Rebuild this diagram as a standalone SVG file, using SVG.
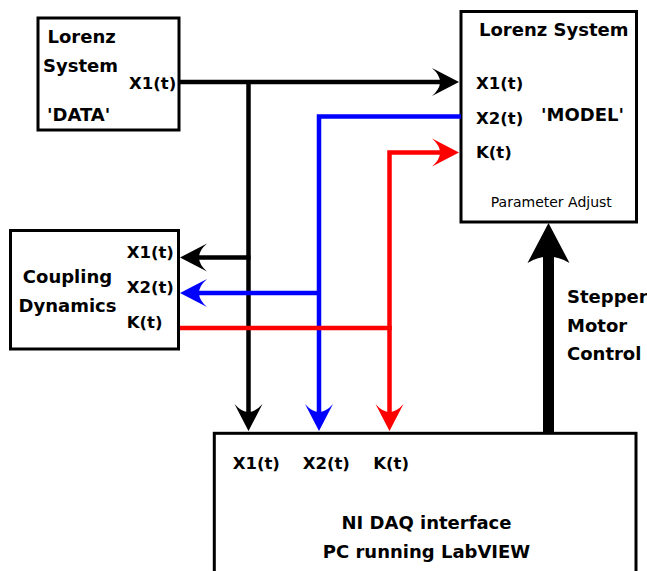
<svg xmlns="http://www.w3.org/2000/svg" width="647" height="571" viewBox="0 0 647 571">
<style>
.box{fill:#fff;stroke:#000;stroke-width:3}
.t{font-family:"DejaVu Sans","Bitstream Vera Sans",sans-serif;font-weight:bold;font-size:18px;fill:#000}
.p{font-family:"DejaVu Sans","Bitstream Vera Sans",sans-serif;font-weight:bold;font-size:16.5px;fill:#000}
.s{font-family:"DejaVu Sans","Bitstream Vera Sans",sans-serif;font-size:14px;fill:#000}
.c{fill:none;stroke-width:4.5;stroke-linejoin:miter}
</style>
<defs>
<marker id="aK" markerUnits="userSpaceOnUse" viewBox="-30 -16 32 32" markerWidth="32" markerHeight="32" refX="-18" refY="0" orient="auto-start-reverse" overflow="visible"><path d="M0,0 L-27,-14 Q-11,0 -27,14 Z" fill="#000"/></marker>
<marker id="aB" markerUnits="userSpaceOnUse" viewBox="-30 -16 32 32" markerWidth="32" markerHeight="32" refX="-18" refY="0" orient="auto-start-reverse" overflow="visible"><path d="M0,0 L-27,-14 Q-11,0 -27,14 Z" fill="#0000ff"/></marker>
<marker id="aR" markerUnits="userSpaceOnUse" viewBox="-30 -16 32 32" markerWidth="32" markerHeight="32" refX="-18" refY="0" orient="auto-start-reverse" overflow="visible"><path d="M0,0 L-27,-14 Q-11,0 -27,14 Z" fill="#ff0000"/></marker>
<marker id="aBig" markerUnits="userSpaceOnUse" viewBox="-44 -24 46 48" markerWidth="46" markerHeight="48" refX="-31" refY="0" orient="auto" overflow="visible"><path d="M0,0 L-40,-21 Q-27,0 -40,21 Z" fill="#000"/></marker>
</defs>

<g id="node-lorenz-data">
<rect class="box" x="38" y="18" width="141" height="112"/>
<text class="t" x="47.5" y="43.3">Lorenz</text>
<text class="t" x="43" y="72">System</text>
<text class="p" x="129" y="89">X1(t)</text>
<text class="t" x="47" y="121">'DATA'</text>
</g>

<g id="node-lorenz-model">
<rect class="box" x="461" y="11.5" width="175.5" height="210.5"/>
<text class="t" x="479" y="36">Lorenz System</text>
<text class="p" x="476" y="89">X1(t)</text>
<text class="p" x="476" y="123.5">X2(t)</text>
<text class="p" x="476" y="158">K(t)</text>
<text class="t" x="541" y="120.7">'MODEL'</text>
<text class="s" x="551.3" y="207.3" text-anchor="middle">Parameter Adjust</text>
</g>

<g id="node-coupling">
<rect class="box" x="10.5" y="230.5" width="168" height="118.5"/>
<text class="t" x="67.5" y="283" text-anchor="middle">Coupling</text>
<text class="t" x="67.5" y="311.5" text-anchor="middle">Dynamics</text>
<text class="p" x="126.7" y="258.3">X1(t)</text>
<text class="p" x="126.7" y="293">X2(t)</text>
<text class="p" x="126.7" y="328">K(t)</text>
</g>

<g id="node-daq">
<rect class="box" x="214.3" y="433.3" width="421.7" height="200"/>
<text class="p" x="232.7" y="469.3">X1(t)</text>
<text class="p" x="302.7" y="469.3">X2(t)</text>
<text class="p" x="373.3" y="469.3">K(t)</text>
<text class="t" x="426.5" y="529.3" text-anchor="middle">NI DAQ interface</text>
<text class="t" x="426.5" y="558.3" text-anchor="middle">PC running LabVIEW</text>
</g>

<g id="connectors">
<path class="c" stroke="#000" d="M180,82 H441" marker-end="url(#aK)"/>
<path class="c" stroke="#000" d="M248.5,80 V413" marker-end="url(#aK)"/>
<path class="c" stroke="#000" d="M250.5,257.5 H198" marker-end="url(#aK)"/>
<path class="c" stroke="#0000ff" d="M461,116.5 H319 V413" marker-end="url(#aB)"/>
<path class="c" stroke="#0000ff" d="M321,293 H198" marker-end="url(#aB)"/>
<path class="c" stroke="#ff0000" d="M441,152.5 H389.5 V413" marker-start="url(#aR)" marker-end="url(#aR)"/>
<path class="c" stroke="#ff0000" d="M180,328 H391.7"/>
<path fill="none" stroke="#000" stroke-width="11" d="M548.5,433 V254" marker-end="url(#aBig)"/>
<text class="t" x="567" y="303">Stepper</text>
<text class="t" x="567" y="331.5">Motor</text>
<text class="t" x="567" y="360">Control</text>
</g>
</svg>
